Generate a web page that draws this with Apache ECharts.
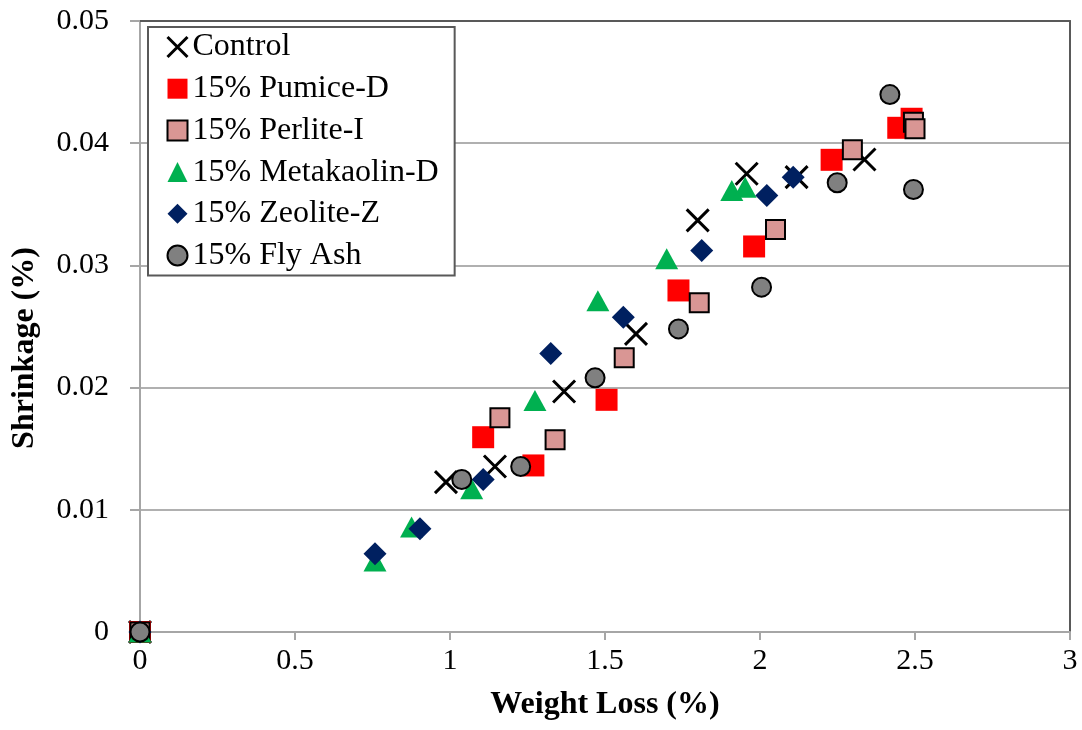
<!DOCTYPE html>
<html>
<head>
<meta charset="utf-8">
<script src="https://cdn.jsdelivr.net/npm/echarts@6/dist/echarts.min.js"></script>
<style>
  html, body { margin: 0; padding: 0; background: #fff; }
  #chart { width: 1082px; height: 730px; }
</style>
</head>
<body>
<div id="chart"></div>
<script>
// Weight loss (%) and shrinkage (%) readings for each mix
const controlLoss      = [0, 0.987, 1.145, 1.368, 1.600, 1.799, 1.957, 2.118, 2.337];
const controlShrink    = [0, 0.01226, 0.01354, 0.01968, 0.02440, 0.03368, 0.03750, 0.03722, 0.03867];

const pumiceLoss       = [0, 1.107, 1.269, 1.505, 1.737, 1.981, 2.231, 2.446, 2.489];
const pumiceShrink     = [0, 0.01594, 0.01363, 0.01900, 0.02795, 0.03155, 0.03864, 0.04126, 0.04200];

const perliteLoss      = [0, 1.161, 1.339, 1.562, 1.804, 2.050, 2.298, 2.495, 2.500];
const perliteShrink    = [0, 0.01753, 0.01573, 0.02244, 0.02694, 0.03294, 0.03946, 0.04172, 0.04118];

const metakaolinLoss   = [0, 0.758, 0.876, 1.070, 1.274, 1.477, 1.699, 1.909, 1.952];
const metakaolinShrink = [0, 0.00580, 0.00860, 0.01172, 0.01894, 0.02710, 0.03054, 0.03613, 0.03640];

const zeoliteLoss      = [0, 0.758, 0.903, 1.107, 1.325, 1.559, 1.812, 2.022, 2.107];
const zeoliteShrink    = [0, 0.00640, 0.00845, 0.01248, 0.02280, 0.02576, 0.03122, 0.03572, 0.03722];

const flyAshLoss       = [0, 1.038, 1.228, 1.468, 1.737, 2.005, 2.249, 2.419, 2.495];
const flyAshShrink     = [0, 0.01248, 0.01354, 0.02080, 0.02480, 0.02822, 0.03676, 0.04398, 0.03621];

const seriesNames = ['Control', '15% Pumice-D', '15% Perlite-I', '15% Metakaolin-D', '15% Zeolite-Z', '15% Fly Ash'];

const xTicks = { min: 0, max: 3, step: 0.5 };
const yTicks = { min: 0, max: 0.05, step: 0.01 };

const pairs = (xs, ys) => xs.map((x, i) => [x, ys[i]]);

const SERIF = '"Liberation Serif", "Times New Roman", serif';
const CROSS = 'path://M0,0L20,20M20,0L0,20';

const chart = echarts.init(document.getElementById('chart'), null, { renderer: 'canvas' });

function scatter(name, data, symbol, size, itemStyle) {
  return {
    type: 'scatter',
    name: name,
    data: data,
    symbol: symbol,
    symbolSize: size,
    itemStyle: Object.assign({ opacity: 1 }, itemStyle),
    emphasis: { disabled: true },
    animation: false,
    clip: false
  };
}

chart.setOption({
  backgroundColor: '#ffffff',
  animation: false,
  grid: { left: 140, right: 12, top: 21, bottom: 98, containLabel: false },
  xAxis: [
    {
      type: 'value',
      min: xTicks.min, max: xTicks.max, interval: xTicks.step,
      name: 'Weight Loss (%)',
      nameLocation: 'middle',
      nameGap: 57,
      nameTextStyle: { fontFamily: SERIF, fontWeight: 'bold', fontSize: 32, color: '#000' },
      axisLine: { show: true, onZero: false, lineStyle: { color: '#a6a6a6', width: 2 } },
      axisTick: { show: true, inside: false, length: 8, lineStyle: { color: '#a6a6a6', width: 2 } },
      axisLabel: { fontFamily: SERIF, fontSize: 30, color: '#000', margin: 14 },
      splitLine: { show: false }
    },
    {
      type: 'value', position: 'top',
      min: xTicks.min, max: xTicks.max, interval: xTicks.step,
      axisLine: { show: true, onZero: false, lineStyle: { color: '#595959', width: 2 } },
      axisTick: { show: false }, axisLabel: { show: false }, splitLine: { show: false }
    }
  ],
  yAxis: [
    {
      type: 'value',
      min: yTicks.min, max: yTicks.max, interval: yTicks.step,
      axisLine: { show: true, onZero: false, lineStyle: { color: '#a6a6a6', width: 2 } },
      axisTick: { show: true, inside: false, length: 10, lineStyle: { color: '#a6a6a6', width: 2 } },
      axisLabel: {
        fontFamily: SERIF, fontSize: 30, color: '#000', margin: 31,
        formatter: v => (v === 0 ? '0' : v.toFixed(2))
      },
      splitLine: { show: true, lineStyle: { color: '#b0b0b0', width: 2 } }
    },
    {
      type: 'value', position: 'right',
      min: yTicks.min, max: yTicks.max, interval: yTicks.step,
      axisLine: { show: true, onZero: false, lineStyle: { color: '#595959', width: 2 } },
      axisTick: { show: false }, axisLabel: { show: false }, splitLine: { show: false }
    }
  ],
  legend: {
    orient: 'vertical',
    left: 148, top: 27,
    padding: [4, 16, 4, 18],
    itemGap: 9.7,
    itemWidth: 20, itemHeight: 20,
    backgroundColor: '#ffffff',
    borderColor: '#595959', borderWidth: 2, borderRadius: 0,
    selectedMode: false,
    textStyle: { fontFamily: SERIF, fontSize: 32, color: '#000', lineHeight: 32 },
    data: [
      { name: seriesNames[0], itemStyle: { borderWidth: 3 } },
      { name: seriesNames[1] },
      { name: seriesNames[2], itemStyle: { borderWidth: 2 } },
      { name: seriesNames[3] },
      { name: seriesNames[4] },
      { name: seriesNames[5], itemStyle: { borderWidth: 2 } }
    ]
  },
  graphic: [
    {
      type: 'text',
      x: 25, y: 348,
      rotation: Math.PI / 2,
      style: {
        text: 'Shrinkage (%)',
        fontFamily: SERIF, fontWeight: 'bold', fontSize: 32,
        fill: '#000', textAlign: 'center', textVerticalAlign: 'middle'
      }
    }
  ],
  series: [
    scatter(seriesNames[0], pairs(controlLoss, controlShrink), CROSS, 22,
      { color: '#000', borderColor: '#000', borderWidth: 3 }),
    scatter(seriesNames[1], pairs(pumiceLoss, pumiceShrink), 'rect', 22,
      { color: '#ff0000', borderWidth: 0 }),
    scatter(seriesNames[2], pairs(perliteLoss, perliteShrink), 'rect', 19,
      { color: '#d99694', borderColor: '#000', borderWidth: 2 }),
    scatter(seriesNames[3], pairs(metakaolinLoss, metakaolinShrink), 'triangle', [23, 21],
      { color: '#00b050', borderWidth: 0 }),
    scatter(seriesNames[4], pairs(zeoliteLoss, zeoliteShrink), 'diamond', [23, 23],
      { color: '#002060', borderWidth: 0 }),
    scatter(seriesNames[5], pairs(flyAshLoss, flyAshShrink), 'circle', 19,
      { color: '#808080', borderColor: '#000', borderWidth: 2 })
  ]
});
</script>
</body>
</html>
